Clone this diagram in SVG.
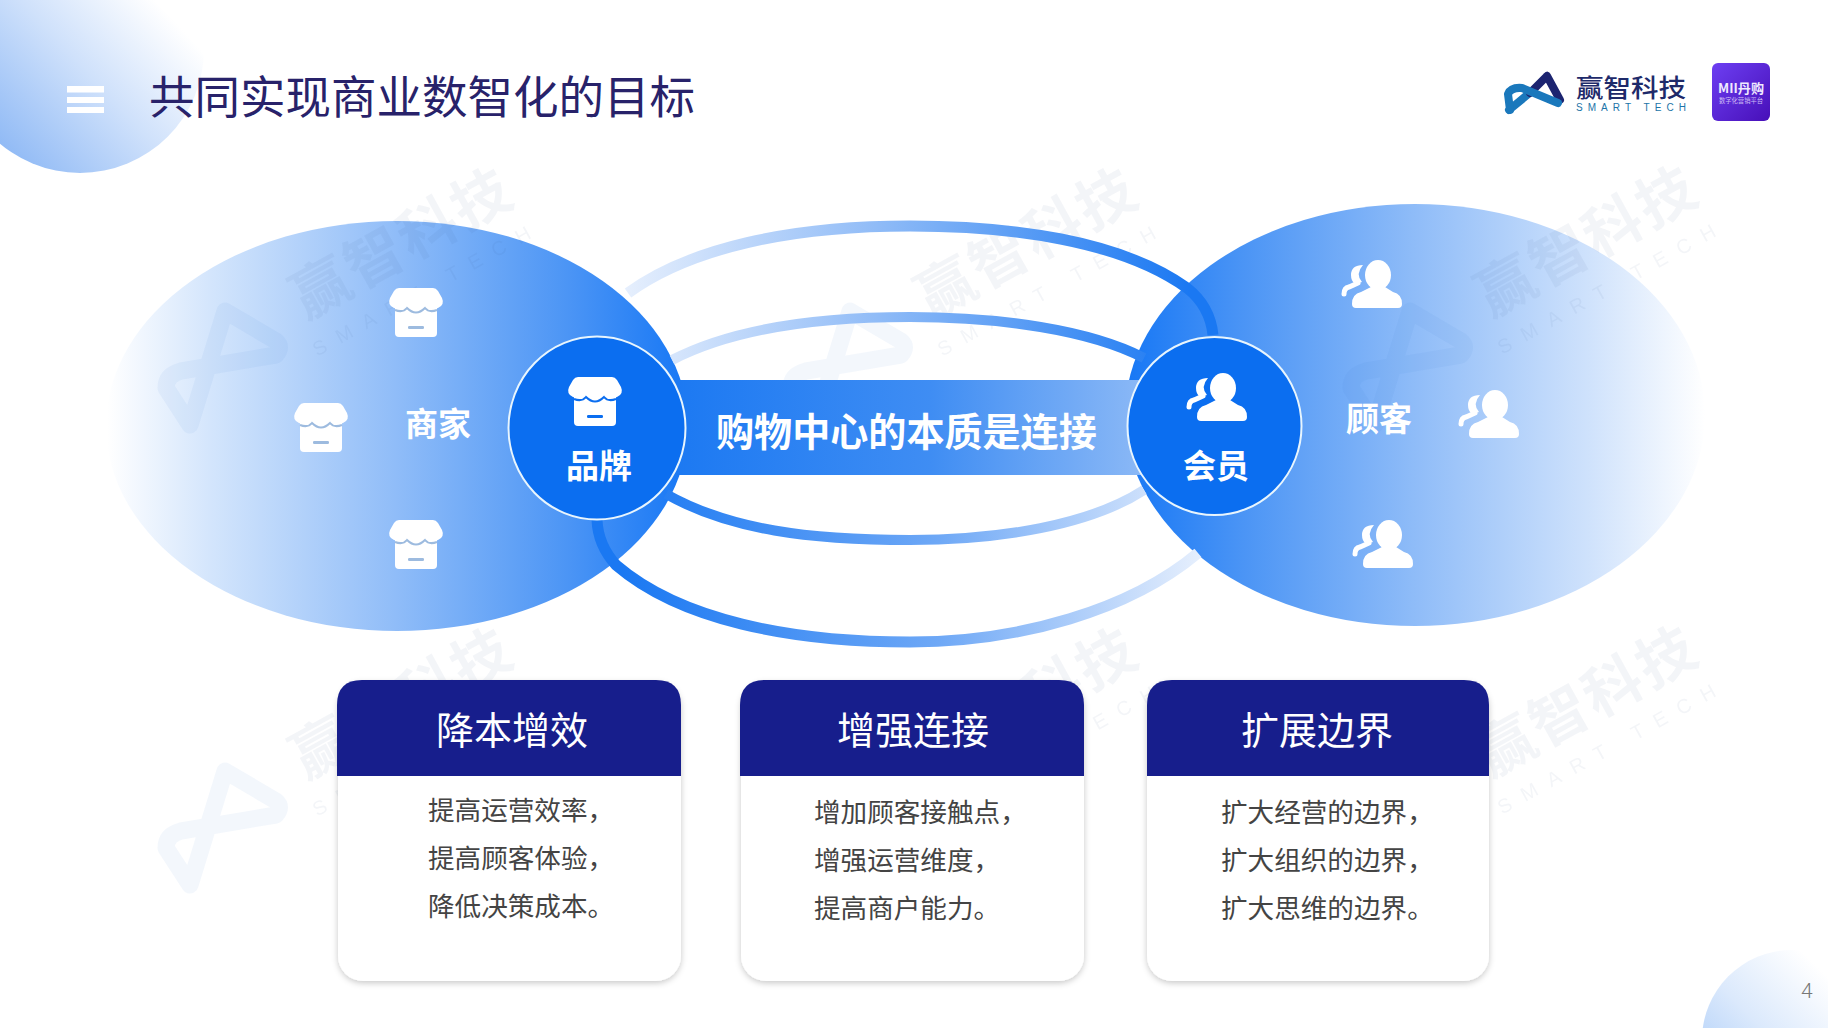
<svg xmlns="http://www.w3.org/2000/svg" xmlns:xlink="http://www.w3.org/1999/xlink" width="1828" height="1028" viewBox="0 0 1828 1028">
<defs>
<linearGradient id="gL" gradientUnits="userSpaceOnUse" x1="107" y1="0" x2="688" y2="0"><stop offset="0" stop-color="#fff"/><stop offset=".18" stop-color="#d3e5fc"/><stop offset=".5" stop-color="#8fbcf8"/><stop offset=".8" stop-color="#4a94f5"/><stop offset="1" stop-color="#1677f5"/></linearGradient>
<linearGradient id="gR" gradientUnits="userSpaceOnUse" x1="1125" y1="0" x2="1705" y2="0"><stop offset="0" stop-color="#1677f5"/><stop offset=".2" stop-color="#4a94f5"/><stop offset=".5" stop-color="#8fbcf8"/><stop offset=".8" stop-color="#cfe2fc"/><stop offset="1" stop-color="#fff"/></linearGradient>
<linearGradient id="gBand" gradientUnits="userSpaceOnUse" x1="675" y1="0" x2="1140" y2="0"><stop offset="0" stop-color="#1c79f2"/><stop offset=".55" stop-color="#3f8df3"/><stop offset="1" stop-color="#8ab8f6"/></linearGradient>
<linearGradient id="gRingT" gradientUnits="userSpaceOnUse" x1="625" y1="0" x2="1190" y2="0"><stop offset="0" stop-color="#e6effd"/><stop offset=".45" stop-color="#8fbbf7"/><stop offset="1" stop-color="#1a78f2"/></linearGradient>
<linearGradient id="gRingB" gradientUnits="userSpaceOnUse" x1="620" y1="0" x2="1200" y2="0"><stop offset="0" stop-color="#1a78f2"/><stop offset=".55" stop-color="#6ea8f6"/><stop offset="1" stop-color="#e6effd"/></linearGradient>
<linearGradient id="gTL" x1=".15" y1=".9" x2=".8" y2=".3"><stop offset="0" stop-color="#8db8f5"/><stop offset=".55" stop-color="#cfe1fb"/><stop offset="1" stop-color="#fff"/></linearGradient>
<linearGradient id="gBR" x1=".1" y1=".85" x2=".75" y2=".2"><stop offset="0" stop-color="#a9cbf8"/><stop offset=".5" stop-color="#dbe9fc"/><stop offset="1" stop-color="#fff"/></linearGradient>
<linearGradient id="gBadge" x1="0" y1="0" x2="1" y2="1"><stop offset="0" stop-color="#6d3ff2"/><stop offset="1" stop-color="#470fb8"/></linearGradient>
<filter id="sh" x="-10%" y="-10%" width="120%" height="120%"><feDropShadow dx="0" dy="2" stdDeviation="3" flood-color="#000" flood-opacity=".22"/></filter>
<g id="wmLogo"><path d="M67 8L32 122L8 85Q8 72 23 68L118 52Q125 44 118 38Z" fill="none" stroke="#3878d0" stroke-width="17" stroke-linejoin="round" opacity=".06"/></g>
<g id="store">
<rect x="6" y="16" width="42" height="33" rx="4" fill="#fff"/>
<path d="M6 22Q14 25 18 20Q27 29 36 20Q40 25 48 22" fill="none" stroke="currentColor" stroke-width="2"/>
<path d="M10 0H44Q47 0 49 3L53 10Q56 17 49 20Q41 23 36 17Q27 26 18 17Q13 23 5 20Q-2 17 1 10L5 3Q7 0 10 0Z" fill="#fff"/>
<rect x="19" y="38" width="16" height="3" rx="1.2" fill="currentColor"/>
</g>
<g id="user">
<ellipse cx="37" cy="14" rx="13" ry="15" fill="#fff"/>
<path d="M11 43Q11 33 20 31L30 26H44L52 31Q61 33 61 43Q61 47 57 47H15Q11 47 11 43Z" fill="#fff"/>
<path d="M22 4Q10 4 10 14Q10 20 14 23L21 21Q14 13 22 4Z" fill="#fff"/>
<path d="M3 33Q3 27 8 26L17 22" fill="none" stroke="#fff" stroke-width="5" stroke-linecap="round"/>
</g>
</defs>
<style>
text{font-family:"Noto Sans CJK SC","Liberation Sans",sans-serif}
.lb{font-weight:700;fill:#fff;font-size:33px}
.ct{font-size:38px;fill:#fff;text-anchor:middle}
.cb{font-size:26.6px;fill:#444}
.hd{fill:#171e8c}
.wa{font-size:58px;font-weight:700;fill:#2a4a80;opacity:.05;text-anchor:middle;letter-spacing:3px}
.ws{font-size:20px;fill:#2a4a80;opacity:.05;text-anchor:middle;letter-spacing:13px;font-family:"Liberation Sans",sans-serif}
.ring{fill:none}
.sm{color:#9dbbdf}
.bg{color:#0b6ef0}
</style>
<rect width="1828" height="1028" fill="#fff"/>
<g id="corners">
<circle cx="80" cy="49" r="124" fill="url(#gTL)"/>
<circle cx="1792" cy="1040" r="90" fill="url(#gBR)"/>
</g>
<g id="header">
<g fill="#fff"><rect x="67" y="86" width="37" height="6.500"/><rect x="67" y="97" width="37" height="6"/><rect x="67" y="107" width="37" height="6"/></g>
<text x="149" y="114" font-size="45.500" fill="#28226a">共同实现商业数智化的目标</text>
</g>
<g id="ellipses">
<ellipse id="merchant-bg" cx="397" cy="426" rx="291" ry="205" fill="url(#gL)"/>
<ellipse id="customer-bg" cx="1415" cy="415" rx="290" ry="211" fill="url(#gR)"/>
</g>
<g id="watermarks">
<use href="#wmLogo" x="158" y="303"/><use href="#wmLogo" x="783" y="303"/><use href="#wmLogo" x="1343" y="303"/>
<use href="#wmLogo" x="158" y="763"/>
<g transform="translate(415 266) rotate(-29)"><text class="wa" y="-6">赢智科技</text><text class="ws" y="32">SMART TECH</text></g>
<g transform="translate(1040 266) rotate(-29)"><text class="wa" y="-6">赢智科技</text><text class="ws" y="32">SMART TECH</text></g>
<g transform="translate(1600 264) rotate(-29)"><text class="wa" y="-6">赢智科技</text><text class="ws" y="32">SMART TECH</text></g>
<g transform="translate(415 726) rotate(-29)"><text class="wa" y="-6">赢智科技</text><text class="ws" y="32">SMART TECH</text></g>
<g transform="translate(1040 726) rotate(-29)"><text class="wa" y="-6">赢智科技</text><text class="ws" y="32">SMART TECH</text></g>
<g transform="translate(1600 724) rotate(-29)"><text class="wa" y="-6">赢智科技</text><text class="ws" y="32">SMART TECH</text></g>
</g>
<g id="connectors">
<path class="ring" stroke="url(#gRingT)" stroke-width="11" d="M628 293C690 248 790 226 910 226C1010 226 1120 240 1187 288Q1210 306 1213 335"/>
<path class="ring" stroke="url(#gRingT)" stroke-width="10" d="M672 360C730 330 810 317 910 317C1000 317 1090 330 1144 358"/>
<path class="ring" stroke="url(#gRingB)" stroke-width="10" d="M666 494C730 530 810 540 910 540C1000 540 1090 525 1144 490"/>
<path class="ring" stroke="url(#gRingB)" stroke-width="11" d="M597 520Q598 545 616 565C680 620 790 642 910 642C1020 642 1130 610 1198 553"/>
</g>
<g id="band">
<rect x="670" y="380" width="475" height="95" fill="url(#gBand)"/>
<text x="716" y="446" font-size="38.100" font-weight="700" fill="#fff">购物中心的本质是连接</text>
</g>
<g id="merchant">
<use href="#store" class="sm" x="389" y="288"/><use href="#store" class="sm" x="294" y="403"/><use href="#store" class="sm" x="389" y="520"/>
<text class="lb" x="405" y="436">商家</text>
</g>
<g id="brand">
<ellipse cx="597" cy="428" rx="88.500" ry="91.500" fill="#0b6ef0" stroke="#e8f5fd" stroke-width="2"/>
<use href="#store" class="bg" x="568" y="377"/>
<text class="lb" x="566" y="478">品牌</text>
</g>
<g id="customer">
<use href="#user" x="1341" y="261"/><use href="#user" x="1458" y="391"/><use href="#user" x="1352" y="521"/>
<text class="lb" x="1346" y="431">顾客</text>
</g>
<g id="member">
<ellipse cx="1214.500" cy="426" rx="87" ry="89" fill="#0b6ef0" stroke="#e8f5fd" stroke-width="2"/>
<use href="#user" x="1186" y="374"/>
<text class="lb" x="1183" y="478">会员</text>
</g>
<g id="card1">
<rect x="338" y="681" width="343" height="300" rx="25" fill="#fff" filter="url(#sh)"/>
<path class="hd" d="M337 776V705Q337 680 362 680H656Q681 680 681 705V776Z"/>
<text class="ct" x="512" y="744">降本增效</text>
<text class="cb" x="428" y="820">提高运营效率，</text><text class="cb" x="428" y="868">提高顾客体验，</text><text class="cb" x="428" y="916">降低决策成本。</text>
</g>
<g id="card2">
<rect x="741" y="681" width="343" height="300" rx="25" fill="#fff" filter="url(#sh)"/>
<path class="hd" d="M740 776V705Q740 680 765 680H1059Q1084 680 1084 705V776Z"/>
<text class="ct" x="913" y="744">增强连接</text>
<text class="cb" x="814" y="822">增加顾客接触点，</text><text class="cb" x="814" y="870">增强运营维度，</text><text class="cb" x="814" y="918">提高商户能力。</text>
</g>
<g id="card3">
<rect x="1147" y="681" width="342" height="300" rx="25" fill="#fff" filter="url(#sh)"/>
<path class="hd" d="M1147 776V705Q1147 680 1172 680H1464Q1489 680 1489 705V776Z"/>
<text class="ct" x="1317" y="744">扩展边界</text>
<text class="cb" x="1221" y="822">扩大经营的边界，</text><text class="cb" x="1221" y="870">扩大组织的边界，</text><text class="cb" x="1221" y="918">扩大思维的边界。</text>
</g>
<g id="logo">
<g fill="none" stroke-linecap="round" stroke-linejoin="round">
<path d="M1509 110L1532 91" stroke="#1a78bc" stroke-width="8"/>
<path d="M1547 76L1530 93M1547 76L1560 100" stroke="#1c2470" stroke-width="8"/>
<path d="M1510 110L1508 94Q1511 87 1522 88L1558 103" stroke="#1a78bc" stroke-width="8"/>
</g>
<text x="1576" y="97" font-size="25" font-weight="500" fill="#1e2a6a" textLength="110" lengthAdjust="spacingAndGlyphs">赢智科技</text>
<text x="1576" y="111" font-size="10" fill="#1c74a8" textLength="110" style="font-family:'Liberation Sans',sans-serif">SMART TECH</text>
</g>
<g id="badge">
<rect x="1712" y="63" width="58" height="58" rx="6" fill="url(#gBadge)"/>
<text x="1718" y="93" font-size="13" font-weight="700" fill="#f0eaff" textLength="46" lengthAdjust="spacingAndGlyphs">MII丹购</text>
<text x="1719" y="103" font-size="6.300" fill="#cdbcf5" textLength="44">数字化营销平台</text>
</g>
<text id="page" x="1801" y="998" font-size="21" fill="#777" style="font-family:Roboto,sans-serif;font-weight:300">4</text>
</svg>
